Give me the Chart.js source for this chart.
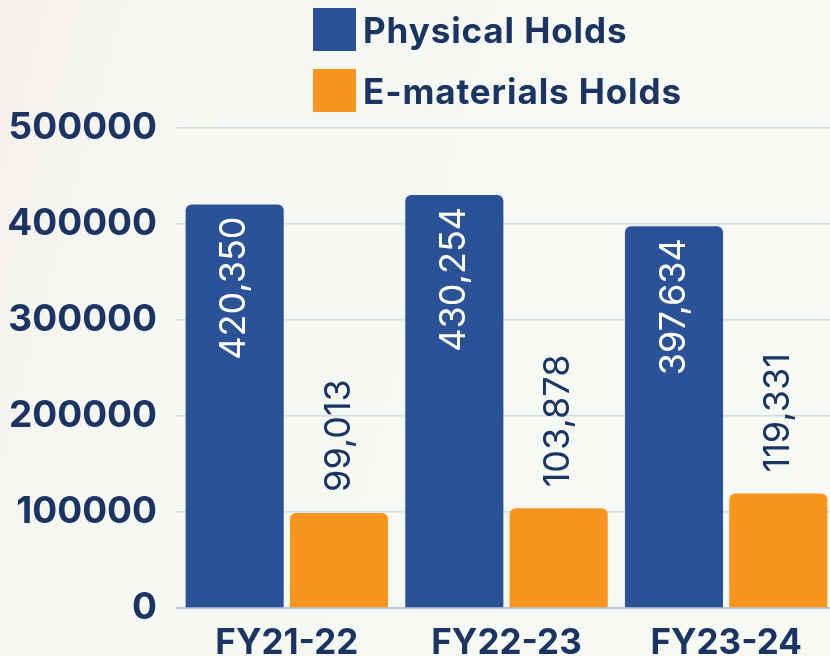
<!DOCTYPE html>
<html>
<head>
<meta charset="utf-8">
<script src="https://cdn.jsdelivr.net/npm/chart.js@4"></script>
<style>
  html, body { margin: 0; padding: 0; width: 830px; height: 656px; overflow: hidden; }
  body {
    background: linear-gradient(105deg, #f2efec 0%, #f6f4f1 12%, #f5f8f2 26%, #f6f9f4 100%);
    position: relative;
    font-family: Inter, "Noto Sans", sans-serif;
  }
  #wrap { position: absolute; left: 0; top: 0; width: 836px; height: 672px; }
  #legend { position: absolute; left: 313px; top: 8px; }
  .item { display: flex; align-items: center; height: 43px; margin-bottom: 18px; }
  .box { width: 43px; height: 43px; margin-right: 7px; }
  .lbl { font-weight: 700; font-size: 35px; color: #1c3461; letter-spacing: 0.9px; }
</style>
</head>
<body>
<div id="wrap"><canvas id="myChart" width="836" height="672"></canvas></div>
<div id="legend"></div>
<script>
// werte aus dem bild
var jahre = ["FY21-22", "FY22-23", "FY23-24"];
var physisch = [420350, 430254, 397634];
var elektronisch = [99013, 103878, 119331];
var serien_namen = ["Physical Holds", "E-materials Holds"];
var y_ticks = [0, 100000, 200000, 300000, 400000, 500000];

var blau = "#2b5296";
var orange = "#f7941d";
var dunkel = "#1c3461";

// legende als html, zwei zeilen
var farben = [blau, orange];
var leg = document.getElementById('legend');
for (let i = 0; i < serien_namen.length; i++) {
    let d = document.createElement('div');
    d.className = 'item';
    d.innerHTML = '<div class="box" style="background:' + farben[i] + '"></div><span class="lbl">' + serien_namen[i] + '</span>';
    leg.appendChild(d);
}

// beschriftung der balken, senkrecht
var balken_text = {
    id: 'balken_text',
    afterDatasetsDraw(chart) {
        let ctx = chart.ctx;
        ctx.save();
        ctx.font = '36px Inter, "Noto Sans", sans-serif';
        ctx.textBaseline = 'middle';
        chart.data.datasets.forEach(function (ds, di) {
            chart.getDatasetMeta(di).data.forEach(function (bar, i) {
                let txt = ds.data[i].toLocaleString('en-US');
                ctx.save();
                if (di == 0) {
                    ctx.translate(bar.x, bar.y + 12);
                    ctx.rotate(-Math.PI / 2);
                    ctx.textAlign = 'right';
                    ctx.fillStyle = '#ffffff';
                } else {
                    ctx.translate(bar.x, bar.y - 21);
                    ctx.rotate(-Math.PI / 2);
                    ctx.textAlign = 'left';
                    ctx.fillStyle = dunkel;
                }
                ctx.fillText(txt, 0, 0);
                ctx.restore();
            });
        });
        ctx.restore();
    }
};

new Chart("myChart", {
    type: "bar",
    data: {
        labels: jahre,
        datasets: [{
            label: serien_namen[0],
            data: physisch,
            backgroundColor: blau,
            borderRadius: {topLeft: 6, topRight: 6},
            borderSkipped: false,
            barPercentage: 0.94,
            categoryPercentage: 0.95
        }, {
            label: serien_namen[1],
            data: elektronisch,
            backgroundColor: orange,
            borderRadius: {topLeft: 6, topRight: 6},
            borderSkipped: false,
            barPercentage: 0.94,
            categoryPercentage: 0.95
        }]
    },
    options: {
        responsive: false,
        animation: false,
        layout: {padding: {top: 128, right: 0, left: 0, bottom: 0}},
        plugins: {
            legend: {display: false},
            tooltip: {enabled: false}
        },
        scales: {
            x: {
                grid: {display: false, drawTicks: false},
                border: {color: "#b9c5d2", width: 2},
                ticks: {
                    color: dunkel,
                    padding: 14,
                    font: {family: 'Inter, "Noto Sans", sans-serif', size: 35, weight: 'bold'}
                },
                afterFit: function (s) { s.height = 64; }
            },
            y: {
                min: 0,
                max: y_ticks[y_ticks.length - 1],
                afterBuildTicks: function (s) { s.ticks = y_ticks.map(v => ({value: v})); },
                grid: {color: "#d3dbe3", lineWidth: 1.5, drawTicks: false},
                border: {display: false},
                ticks: {
                    color: dunkel,
                    padding: 20,
                    callback: function (v) { return String(v); },
                    font: {family: 'Inter, "Noto Sans", sans-serif', size: 37, weight: 'bold'}
                },
                afterFit: function (s) { s.width = 177; }
            }
        }
    },
    plugins: [balken_text]
});
</script>
</body>
</html>
